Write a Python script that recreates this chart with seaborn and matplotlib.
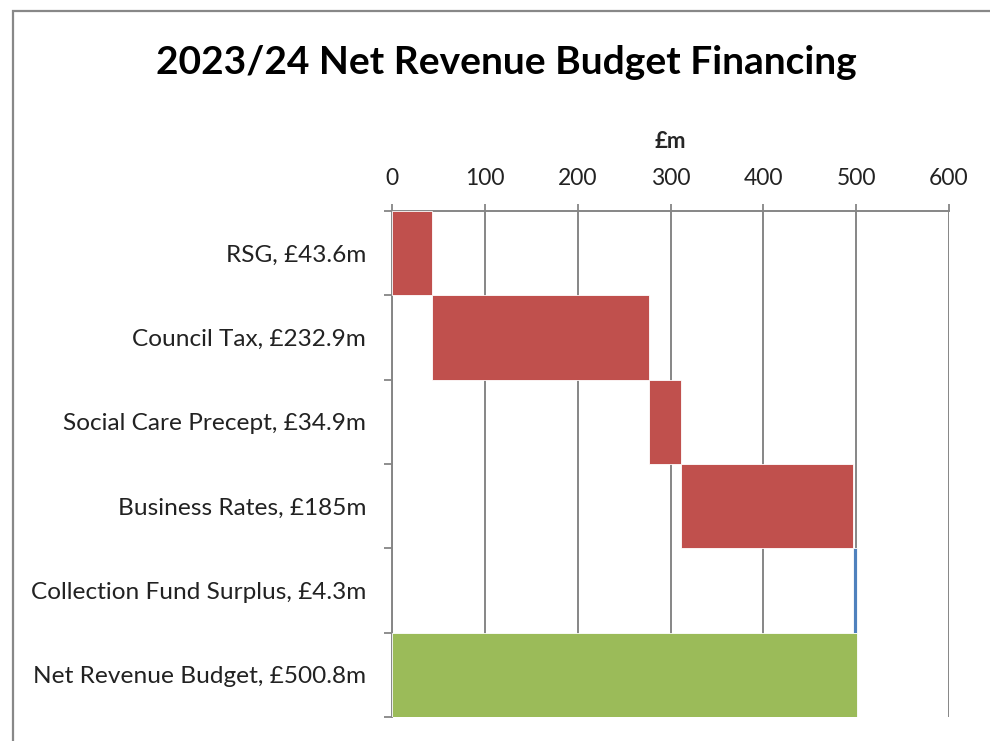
import matplotlib.pyplot as plt
import matplotlib.patches as mpatches
import seaborn as sns
import pandas as pd
import numpy as np

# waterfall data (£m)
labels = ['RSG, £43.6m', 'Council Tax, £232.9m', 'Social Care Precept, £34.9m',
          'Business Rates, £185m', 'Collection Fund Surplus, £4.3m',
          'Net Revenue Budget, £500.8m']
values = [43.6, 232.9, 34.9, 185.0, 4.3, 500.8]
starts = [0.0, 43.6, 276.5, 311.4, 496.4, 0.0]
colors = ['#C0504D', '#C0504D', '#C0504D', '#C0504D', '#4F81BD', '#9BBB59']
xticks = [0, 100, 200, 300, 400, 500, 600]

sns.set_theme(style='white')
plt.rcParams['font.family'] = ['Lato', 'DejaVu Sans']

df = pd.DataFrame({'label': labels, 'value': values})

fig = plt.figure(figsize=(9.9, 7.41), dpi=100)
ax = fig.add_axes([392 / 990, 1 - 717 / 741, (949 - 392) / 990, (717 - 211) / 741])

sns.barplot(data=df, x='value', y='label', hue='label', palette=colors,
            saturation=1, width=1.0, legend=False, ax=ax, edgecolor='white',
            linewidth=0.6, zorder=3)

# shift bars to their waterfall start
for patch, s in zip(ax.patches, starts):
    patch.set_x(s)

ax.set_xlim(0, 600)
ax.set_ylim(len(labels) - 0.5, -0.5)
ax.xaxis.tick_top()
ax.xaxis.set_label_position('top')
ax.set_xticks(xticks)
ax.set_xticklabels([str(t) for t in xticks], fontsize=16.5, color='#222222')
ax.tick_params(axis='x', which='major', direction='out', length=5, width=1.3,
               color='#868686', pad=11, top=True, bottom=False)
ax.set_xlabel('£m', fontsize=16, fontweight='bold', labelpad=14)
ax.set_ylabel('')

# y ticks at category boundaries, labels centred
ax.set_yticks(np.arange(-0.5, len(labels), 1.0))
ax.set_yticklabels([])
ax.set_yticks(np.arange(len(labels)), minor=True)
ax.set_yticklabels(labels, minor=True, fontsize=17.6, color='#222222')
ax.tick_params(axis='y', which='major', direction='out', length=6, width=1.3,
               color='#868686', left=True)
ax.tick_params(axis='y', which='minor', length=0, pad=18.5)

ax.grid(axis='x', color='#868686', linewidth=1.4, zorder=0)
ax.grid(axis='y', visible=False)
ax.set_axisbelow(True)
for side in ['right', 'bottom']:
    ax.spines[side].set_visible(False)
for side in ['top', 'left']:
    ax.spines[side].set_color('#868686')
    ax.spines[side].set_linewidth(1.4)

fig.text(506 / 990, 1 - 62 / 741, '2023/24 Net Revenue Budget Financing',
         ha='center', va='center', fontsize=28, fontweight='bold', color='black')

# outer chart frame (cropped on right and bottom)
fig.patches.append(mpatches.Rectangle((13 / 990, -0.1), 1.0, 1.1 - 11 / 741,
                                      transform=fig.transFigure, fill=False,
                                      edgecolor='#888888', linewidth=1.6))

fig.savefig('out.png', dpi=100)
plt.close(fig)
